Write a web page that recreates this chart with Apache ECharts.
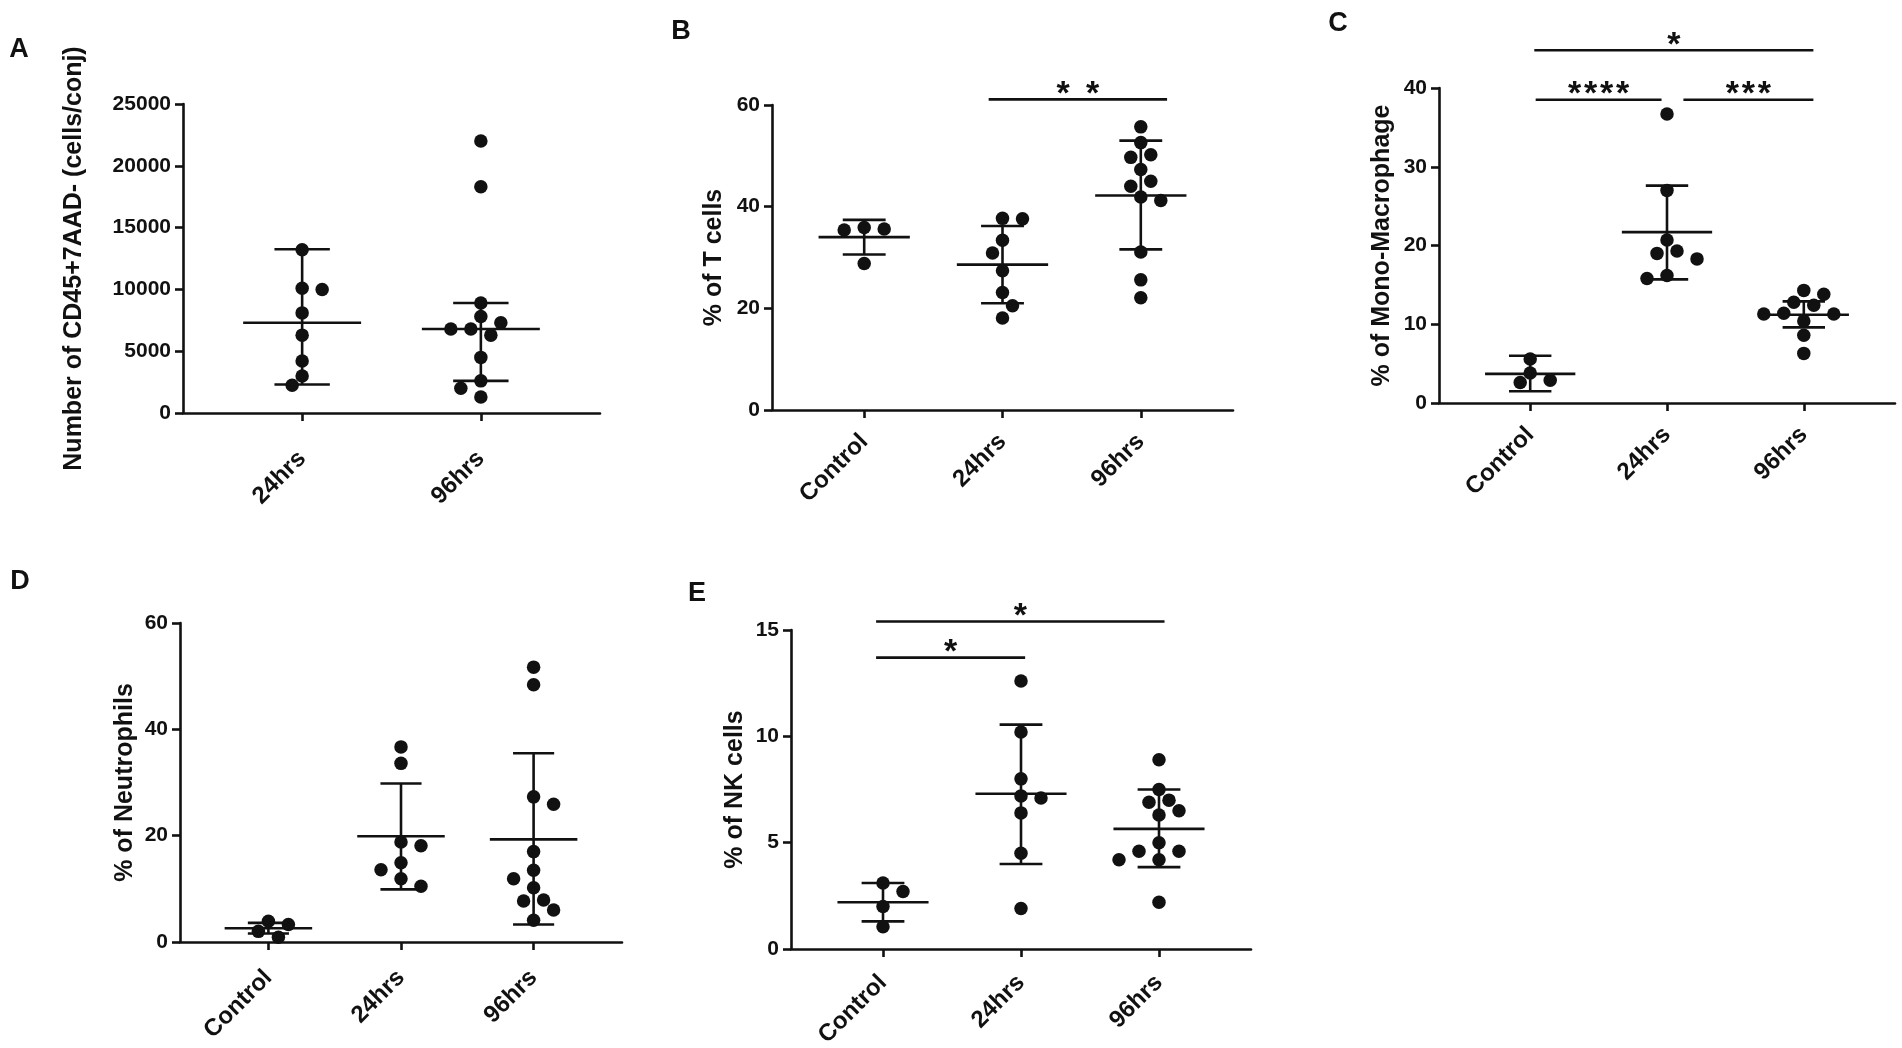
<!DOCTYPE html>
<html>
<head>
<meta charset="utf-8">
<script src="https://cdn.jsdelivr.net/npm/echarts@6/dist/echarts.min.js"></script>
<style>
html, body { margin: 0; padding: 0; background: #fff; }
#main { width: 1902px; height: 1048px; }
</style>
</head>
<body>
<div id="main"></div>
<script>
// categories
var catsA = ['24hrs', '96hrs'];
var cats3 = ['Control', '24hrs', '96hrs'];

// A - Number of CD45+7AAD- (cells/conj)
var a24 = [13200, 10000, 10100, 8100, 6300, 4200, 3000, 2250];
var a96 = [22000, 18300, 8900, 7800, 7300, 6800, 6800, 6300, 4500, 2600, 2000, 1300];
var aMid = [7300, 6800];
var aLow = [2300, 2600];
var aHigh = [13250, 8900];
var aTicks = [0, 5000, 10000, 15000, 20000, 25000];

// B - % of T cells
var bCtl = [35.6, 35.4, 35.9, 28.8];
var b24 = [37.6, 37.7, 33.4, 30.9, 27.4, 23.1, 20.5, 18.1];
var b96 = [55.7, 52.6, 50.2, 49.7, 47.3, 45.0, 44.0, 41.9, 41.2, 31.1, 25.6, 22.1];
var bMid = [34.0, 28.6, 42.2];
var bLow = [30.6, 21.0, 31.6];
var bHigh = [37.4, 36.2, 53.0];
var bTicks = [0, 20, 40, 60];
var bSig = [[0.9, 2.19, 61.1]];
var bSigText = ['*\u2009 *'];

// C - % of Mono-Macrophage
var cCtl = [5.6, 3.8, 2.6, 2.9];
var c24 = [36.7, 27.0, 20.7, 19.3, 19.0, 18.3, 15.8, 16.2];
var c96 = [14.3, 13.8, 12.8, 12.4, 11.4, 11.3, 11.3, 10.4, 8.6, 6.3];
var cMid = [3.7, 21.7, 11.2];
var cLow = [1.5, 15.7, 9.6];
var cHigh = [6.0, 27.6, 12.9];
var cTicks = [0, 10, 20, 30, 40];
var cSig = [[0.03, 2.07, 44.8], [0.04, 0.96, 38.5], [1.12, 2.07, 38.5]];
var cSigText = ['*', '*\u200a*\u200a*\u200a*', '*\u200a*\u200a*'];

// D - % of Neutrophils
var dCtl = [3.3, 3.9, 2.0, 0.9];
var d24 = [36.7, 33.6, 18.1, 18.8, 13.6, 14.9, 11.9, 10.5];
var d96 = [51.7, 48.4, 27.3, 25.9, 17.0, 13.5, 11.9, 10.2, 7.9, 7.7, 6.0, 4.1];
var dMid = [2.6, 19.9, 19.3];
var dLow = [1.6, 9.9, 3.3];
var dHigh = [3.6, 29.8, 35.5];
var dTicks = [0, 20, 40, 60];

// E - % of NK cells
var eCtl = [3.1, 2.7, 2.0, 1.05];
var e24 = [12.6, 10.2, 8.0, 7.2, 7.1, 6.4, 4.5, 1.9];
var e96 = [8.9, 7.5, 6.9, 7.0, 6.3, 6.5, 4.6, 5.0, 4.6, 4.2, 4.2, 2.2];
var eMid = [2.2, 7.3, 5.65];
var eLow = [1.3, 4.0, 3.85];
var eHigh = [3.1, 10.55, 7.5];
var eTicks = [0, 5, 10, 15];
var eSig = [[-0.05, 2.04, 15.4], [-0.05, 1.03, 13.7]];
var eSigText = ['*', '*'];

var FONT = '"Liberation Sans", Arial, Helvetica, sans-serif';
var INK = '#111';
var LW = 2.6;
var DOT = 13.5;
var LANE = 10;     // px step used to spread overlapping dots
var MEAN_W = 0.66; // width of centre line, in category units
var CAP_W = 0.31;

var panels = [
    { letter: 'A', lx: 19, ly: 50, cats: catsA, groups: [a24, a96], mid: aMid, low: aLow, high: aHigh, ticks: aTicks,
      title: 'Number of CD45+7AAD- (cells/conj)', sig: [], sigText: [],
      grid: { left: 183, top: 104, width: 417, height: 309 }, nameGap: 96, labelMargin: 42 },
    { letter: 'B', lx: 681, ly: 32, cats: cats3, groups: [bCtl, b24, b96], mid: bMid, low: bLow, high: bHigh, ticks: bTicks,
      title: '% of T cells', sig: bSig, sigText: bSigText,
      grid: { left: 772, top: 105, width: 461, height: 305 }, nameGap: 45, labelMargin: 28 },
    { letter: 'C', lx: 1338, ly: 24, cats: cats3, groups: [cCtl, c24, c96], mid: cMid, low: cLow, high: cHigh, ticks: cTicks,
      title: '% of Mono-Macrophage', sig: cSig, sigText: cSigText,
      grid: { left: 1439, top: 88, width: 456, height: 315 }, nameGap: 44, labelMargin: 28 },
    { letter: 'D', lx: 20, ly: 582, cats: cats3, groups: [dCtl, d24, d96], mid: dMid, low: dLow, high: dHigh, ticks: dTicks,
      title: '% of Neutrophils', sig: [], sigText: [],
      grid: { left: 180, top: 623, width: 442, height: 319 }, nameGap: 42, labelMargin: 32 },
    { letter: 'E', lx: 697, ly: 594, cats: cats3, groups: [eCtl, e24, e96], mid: eMid, low: eLow, high: eHigh, ticks: eTicks,
      title: '% of NK cells', sig: eSig, sigText: eSigText,
      grid: { left: 791, top: 630, width: 460, height: 319 }, nameGap: 43, labelMargin: 30 }
];

// spread dots of one group sideways so they don't sit on top of each other
function spread(values, pxX, pxY) {
    var order = values.map(function (v, i) { return i; })
        .sort(function (i, j) { return values[j] - values[i]; });
    var placed = [], off = [], flip = 1;
    order.forEach(function (i) {
        var y = values[i] * pxY;
        for (var k = 0; k < 60; k++) {
            var lane = k === 0 ? 0 : Math.ceil(k / 2) * (k % 2 ? flip : -flip);
            var x = lane * LANE;
            var ok = placed.every(function (p) {
                return (p.x - x) * (p.x - x) + (p.y - y) * (p.y - y) >= DOT * DOT;
            });
            if (ok) {
                placed.push({ x: x, y: y });
                off[i] = x / pxX;
                if (lane !== 0) flip = lane > 0 ? -1 : 1;
                break;
            }
        }
    });
    return off;
}

function errRender(params, api) {
    var i = api.value(0);
    var pL = api.coord([i, api.value(1)]);
    var pM = api.coord([i, api.value(2)]);
    var pH = api.coord([i, api.value(3)]);
    var mh = api.size([MEAN_W, 0])[0] / 2;
    var ch = api.size([CAP_W, 0])[0] / 2;
    var st = { stroke: INK, lineWidth: LW };
    return {
        type: 'group',
        children: [
            { type: 'line', shape: { x1: pH[0], y1: pH[1], x2: pL[0], y2: pL[1] }, style: st },
            { type: 'line', shape: { x1: pM[0] - mh, y1: pM[1], x2: pM[0] + mh, y2: pM[1] }, style: st },
            { type: 'line', shape: { x1: pH[0] - ch, y1: pH[1], x2: pH[0] + ch, y2: pH[1] }, style: st },
            { type: 'line', shape: { x1: pL[0] - ch, y1: pL[1], x2: pL[0] + ch, y2: pL[1] }, style: st }
        ]
    };
}

function sigRender(texts) {
    return function (params, api) {
        var a = api.coord([api.value(0), api.value(2)]);
        var b = api.coord([api.value(1), api.value(2)]);
        return {
            type: 'group',
            children: [
                { type: 'line', shape: { x1: a[0], y1: a[1], x2: b[0], y2: b[1] }, style: { stroke: INK, lineWidth: LW } },
                { type: 'text', x: (a[0] + b[0]) / 2, y: a[1] - 5,
                  style: { text: texts[params.dataIndex], fill: INK, align: 'center', verticalAlign: 'middle',
                           font: 'bold 34px ' + FONT } }
            ]
        };
    };
}

var option = {
    backgroundColor: '#fff',
    animation: false,
    grid: [], xAxis: [], yAxis: [], series: [],
    graphic: []
};

panels.forEach(function (p, gi) {
    var n = p.cats.length;
    var xMin = -2 / 3, xMax = n - 1 + 2 / 3;
    var yMin = p.ticks[0], yMax = p.ticks[p.ticks.length - 1];
    var idx = p.cats.map(function (c, i) { return i; });
    var pxX = p.grid.width / (xMax - xMin);
    var pxY = p.grid.height / (yMax - yMin);

    option.grid.push({ left: p.grid.left, top: p.grid.top, width: p.grid.width, height: p.grid.height,
                       containLabel: false, outerBoundsMode: 'none' });

    option.xAxis.push({
        gridIndex: gi, type: 'value', min: xMin, max: xMax,
        axisLine: { show: true, onZero: false, lineStyle: { color: INK, width: LW } },
        axisTick: { show: true, customValues: idx, length: 8, lineStyle: { color: INK, width: LW } },
        axisLabel: {
            customValues: idx, rotate: 45, margin: p.labelMargin,
            formatter: function (v) { return p.cats[Math.round(v)]; },
            color: INK, fontSize: 24, fontWeight: 'bold', fontFamily: FONT
        },
        splitLine: { show: false }
    });

    option.yAxis.push({
        gridIndex: gi, type: 'value', min: yMin, max: yMax, interval: p.ticks[1] - p.ticks[0],
        name: p.title, nameLocation: 'middle', nameGap: p.nameGap,
        nameTextStyle: { color: INK, fontSize: 25, fontWeight: 'bold', fontFamily: FONT },
        axisLine: { show: true, onZero: false, lineStyle: { color: INK, width: LW } },
        axisTick: { show: true, length: 8, lineStyle: { color: INK, width: LW } },
        axisLabel: { margin: 12, color: INK, fontSize: 21, fontWeight: 'bold', fontFamily: FONT,
                     formatter: function (v) { return String(v); } },
        splitLine: { show: false }
    });

    var pts = [];
    p.groups.forEach(function (vals, g) {
        var off = spread(vals, pxX, pxY);
        vals.forEach(function (v, k) { pts.push([g + off[k], v]); });
    });

    option.series.push({
        type: 'scatter', xAxisIndex: gi, yAxisIndex: gi, data: pts,
        symbol: 'circle', symbolSize: DOT, itemStyle: { color: INK, opacity: 1 }, clip: false, silent: true, z: 3
    });

    option.series.push({
        type: 'custom', xAxisIndex: gi, yAxisIndex: gi, clip: false, silent: true, z: 4,
        encode: { x: 0, y: [1, 2, 3] },
        data: p.mid.map(function (m, i) { return [i, p.low[i], m, p.high[i]]; }),
        renderItem: errRender
    });

    if (p.sig.length) {
        option.series.push({
            type: 'custom', xAxisIndex: gi, yAxisIndex: gi, clip: false, silent: true, z: 5,
            encode: { x: [0, 1], y: 2 },
            data: p.sig,
            renderItem: sigRender(p.sigText)
        });
    }

    option.graphic.push({
        type: 'text', x: p.lx, y: p.ly,
        style: { text: p.letter, fill: INK, align: 'center', verticalAlign: 'middle', font: 'bold 27px ' + FONT }
    });
});

var myChart = echarts.init(document.getElementById('main'));
myChart.setOption(option);
</script>
</body>
</html>
